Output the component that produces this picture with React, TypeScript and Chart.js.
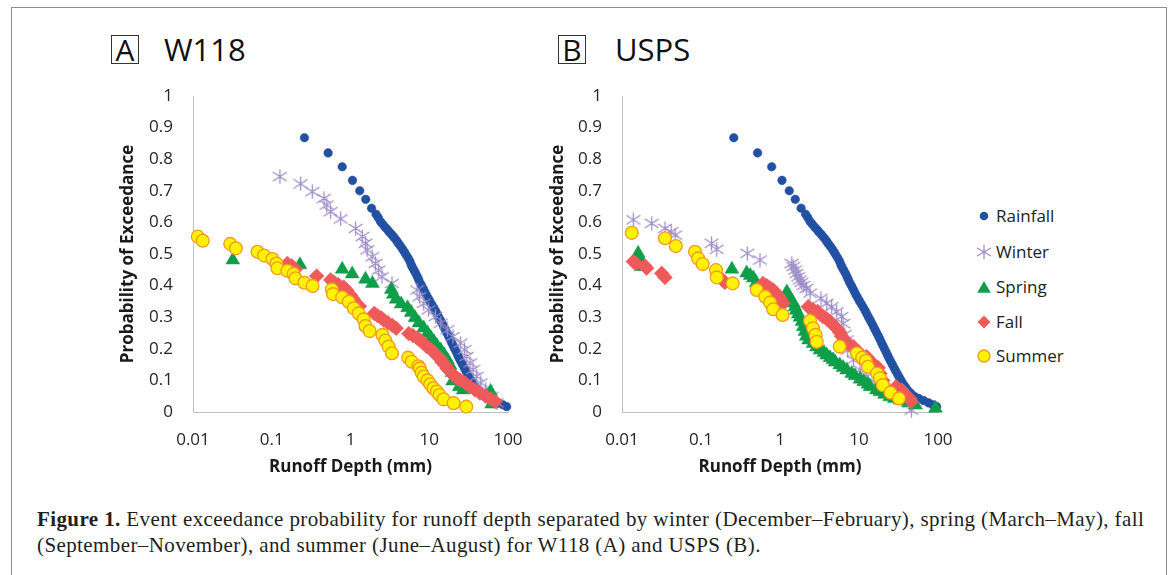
import React, { useEffect, useRef } from "react";
import { Chart, registerables } from "chart.js";

Chart.register(...registerables);

// ---------- axis ticks ----------
const xTickValues = [0.01, 0.1, 1, 10, 100];
const xTickLabels = ["0.01", "0.1", "1", "10", "100"];
const yTickValues = [0, 0.1, 0.2, 0.3, 0.4, 0.5, 0.6, 0.7, 0.8, 0.9, 1];
const yTickLabels = ["0", "0.1", "0.2", "0.3", "0.4", "0.5", "0.6", "0.7", "0.8", "0.9", "1"];

const seriesNames = ["Rainfall", "Winter", "Spring", "Fall", "Summer"];
const panelLetters = ["A", "B"];
const panelNames = ["W118", "USPS"];

// ---------- Rainfall (same in both panels) ----------
const rainfallX = [0.26, 0.52, 0.785, 1.06, 1.31, 1.56, 1.85, 2.11, 2.25, 2.4, 2.55, 2.75, 2.95, 3.1, 3.3, 3.5, 3.7, 3.9, 4.1, 4.35, 4.6, 4.85, 5.1, 5.4, 5.7, 5.9, 6.1, 6.4, 6.7, 7.0, 7.3, 7.6, 8.0, 8.4, 8.8, 9.2, 9.7, 10.2, 10.8, 11.4, 12.0, 12.6, 13.2, 13.9, 14.6, 15.3, 16.0, 16.8, 17.6, 18.4, 19.2, 20.1, 21.0, 22.0, 23.0, 24.0, 25.2, 26.5, 27.8, 29.2, 30.7, 32.3, 34.0, 36, 38.5, 41, 45, 50, 57, 66, 76, 86, 96];
const rainfallY = [0.868, 0.82, 0.776, 0.733, 0.70, 0.673, 0.645, 0.626, 0.615, 0.603, 0.595, 0.585, 0.577, 0.570, 0.563, 0.555, 0.548, 0.540, 0.532, 0.524, 0.515, 0.506, 0.497, 0.487, 0.476, 0.466, 0.458, 0.449, 0.440, 0.430, 0.420, 0.410, 0.400, 0.390, 0.380, 0.370, 0.360, 0.350, 0.340, 0.330, 0.320, 0.310, 0.300, 0.290, 0.280, 0.270, 0.260, 0.250, 0.240, 0.230, 0.220, 0.210, 0.200, 0.190, 0.180, 0.170, 0.160, 0.150, 0.140, 0.130, 0.120, 0.110, 0.100, 0.090, 0.080, 0.070, 0.060, 0.050, 0.043, 0.036, 0.029, 0.023, 0.017];

// ---------- W118 (A) ----------
const w118WinterX = [0.127, 0.233, 0.327, 0.46, 0.50, 0.56, 0.75, 1.16, 1.41, 1.55, 1.63, 1.88, 2.07, 2.28, 2.51, 3.36, 7.0, 7.5, 8.5, 9.8, 12.0, 14.0, 17.0, 20.0, 25.0, 28.0, 30.0, 33.0, 36.0, 40.0, 45.0, 52.0, 62.0, 72.0];
const w118WinterY = [0.745, 0.722, 0.697, 0.676, 0.655, 0.634, 0.611, 0.581, 0.555, 0.534, 0.513, 0.491, 0.470, 0.449, 0.428, 0.407, 0.386, 0.365, 0.344, 0.323, 0.302, 0.281, 0.260, 0.239, 0.218, 0.197, 0.176, 0.155, 0.134, 0.113, 0.092, 0.071, 0.050, 0.029];

const w118SpringX = [0.032, 0.228, 0.785, 1.05, 1.55, 1.9, 3.3, 3.5, 3.8, 4.4, 5.3, 5.9, 6.6, 7.4, 8.5, 9.5, 10.5, 11.5, 12.5, 14, 15.5, 17, 18.4, 19.5, 19.8, 24, 27, 60, 62];
const w118SpringY = [0.481, 0.466, 0.452, 0.437, 0.42, 0.407, 0.388, 0.373, 0.357, 0.342, 0.33, 0.315, 0.298, 0.282, 0.266, 0.25, 0.235, 0.222, 0.21, 0.196, 0.18, 0.165, 0.148, 0.125, 0.098, 0.08, 0.07, 0.065, 0.025];

const w118FallX = [0.158, 0.18, 0.2, 0.372, 0.56, 0.62, 0.7, 0.82, 0.9, 1.0, 1.08, 1.16, 1.3, 2.0, 2.2, 2.45, 2.65, 3.0, 3.4, 3.8, 5.5, 6.2, 7.0, 7.6, 8.5, 9.2, 10.3, 11.3, 12.5, 13.8, 14.5, 15.9, 16.8, 18.5, 20.4, 23, 25, 28.5, 33, 38, 44, 52, 60, 69];
const w118FallY = [0.47, 0.462, 0.452, 0.43, 0.418, 0.41, 0.403, 0.395, 0.385, 0.37, 0.358, 0.344, 0.335, 0.312, 0.305, 0.298, 0.291, 0.282, 0.274, 0.265, 0.248, 0.242, 0.234, 0.228, 0.217, 0.208, 0.2, 0.191, 0.178, 0.17, 0.158, 0.149, 0.138, 0.128, 0.115, 0.106, 0.1, 0.092, 0.08, 0.07, 0.06, 0.05, 0.042, 0.033];

const w118SummerX = [0.0115, 0.0133, 0.0297, 0.035, 0.066, 0.08, 0.102, 0.115, 0.118, 0.158, 0.19, 0.2, 0.26, 0.33, 0.58, 0.6, 0.785, 0.95, 1.1, 1.27, 1.47, 1.55, 1.75, 2.55, 2.77, 3.05, 3.36, 5.4, 6.0, 7.3, 7.6, 8.0, 8.5, 9.5, 10.3, 11.3, 12.5, 13.5, 15.2, 20.4, 29.5];
const w118SummerY = [0.555, 0.542, 0.532, 0.518, 0.507, 0.495, 0.484, 0.47, 0.455, 0.447, 0.437, 0.423, 0.409, 0.399, 0.388, 0.373, 0.363, 0.349, 0.328, 0.312, 0.293, 0.272, 0.256, 0.244, 0.226, 0.207, 0.186, 0.172, 0.159, 0.145, 0.138, 0.124, 0.112, 0.1, 0.088, 0.075, 0.065, 0.054, 0.04, 0.028, 0.017];

// ---------- USPS (B) ----------
const uspsWinterX = [0.0139, 0.0238, 0.035, 0.042, 0.047, 0.136, 0.158, 0.385, 0.558, 1.41, 1.47, 1.55, 1.62, 1.7, 1.79, 1.86, 1.97, 2.15, 2.4, 3.3, 3.9, 4.5, 5.2, 6.0, 6.3, 6.6, 7.0, 7.2, 8.5, 10.3, 12.5, 15.9, 24.5, 33, 44, 46];
const uspsWinterY = [0.608, 0.597, 0.581, 0.57, 0.56, 0.534, 0.515, 0.502, 0.481, 0.47, 0.46, 0.449, 0.438, 0.428, 0.418, 0.41, 0.4, 0.391, 0.376, 0.36, 0.344, 0.333, 0.317, 0.302, 0.28, 0.245, 0.228, 0.196, 0.165, 0.133, 0.112, 0.091, 0.07, 0.048, 0.027, 0.006];

const uspsSpringX = [0.016, 0.0169, 0.0175, 0.246, 0.378, 0.42, 0.46, 0.5, 1.22, 1.27, 1.35, 1.47, 1.55, 1.6, 1.7, 1.79, 1.9, 1.97, 2.07, 2.15, 2.3, 2.62, 2.9, 3.2, 3.6, 3.9, 4.3, 4.7, 5.0, 5.7, 6.3, 7.0, 8.1, 8.9, 10.3, 11.5, 13, 13.8, 16.6, 18.4, 21, 24.5, 28, 33, 42, 52, 93];
const uspsSpringY = [0.502, 0.486, 0.46, 0.452, 0.44, 0.432, 0.424, 0.409, 0.38, 0.37, 0.357, 0.345, 0.333, 0.322, 0.31, 0.3, 0.286, 0.27, 0.255, 0.24, 0.228, 0.217, 0.206, 0.196, 0.188, 0.18, 0.172, 0.165, 0.158, 0.149, 0.141, 0.133, 0.122, 0.115, 0.104, 0.096, 0.088, 0.08, 0.07, 0.064, 0.056, 0.048, 0.043, 0.038, 0.03, 0.022, 0.012];

const uspsFallX = [0.0139, 0.015, 0.0195, 0.0205, 0.0318, 0.035, 0.188, 0.2, 0.61, 0.68, 0.75, 0.82, 0.9, 0.95, 1.0, 1.05, 1.1, 2.28, 2.6, 3.0, 3.2, 3.5, 3.9, 4.3, 4.6, 5.2, 5.7, 6.0, 6.6, 7.0, 8.5, 8.9, 10.3, 12.5, 13, 15, 17.5, 18.4, 20, 29.5, 34.7, 36, 40, 44, 46];
const uspsFallY = [0.476, 0.47, 0.462, 0.455, 0.439, 0.426, 0.418, 0.41, 0.407, 0.4, 0.392, 0.386, 0.375, 0.368, 0.36, 0.35, 0.344, 0.333, 0.325, 0.318, 0.31, 0.302, 0.295, 0.286, 0.278, 0.265, 0.252, 0.24, 0.228, 0.218, 0.207, 0.196, 0.186, 0.175, 0.168, 0.154, 0.14, 0.122, 0.1, 0.08, 0.07, 0.064, 0.052, 0.042, 0.033];

const uspsSummerX = [0.0133, 0.035, 0.048, 0.084, 0.092, 0.105, 0.155, 0.158, 0.252, 0.507, 0.65, 0.75, 0.82, 1.08, 2.4, 2.62, 2.82, 2.92, 5.7, 9.4, 11, 12.2, 13, 17, 18.4, 20, 25, 32];
const uspsSummerY = [0.567, 0.55, 0.525, 0.507, 0.486, 0.468, 0.449, 0.426, 0.407, 0.386, 0.365, 0.346, 0.325, 0.307, 0.289, 0.265, 0.244, 0.222, 0.207, 0.186, 0.172, 0.162, 0.143, 0.122, 0.107, 0.085, 0.061, 0.043];

// ---------- styling ----------
const COLORS = {
  rainfall: "#2251A4",
  winter: "#9D8CC6",
  spring: "#0F9E4A",
  fall: "#EE5A5A",
  summerFill: "#FFF200",
  summerBorder: "#F29A1F",
  axis: "#BFBFBF",
  tick: "#262626",
};
const FONT = "'Open Sans', 'Noto Sans', sans-serif";

function zip(xs: number[], ys: number[]) {
  const n = Math.min(xs.length, ys.length);
  const out: { x: number; y: number }[] = [];
  for (let i = 0; i < n; i++) out.push({ x: xs[i], y: ys[i] });
  return out;
}

function makeAsterisk(color: string, size: number) {
  const c = document.createElement("canvas");
  c.width = size;
  c.height = size;
  const g = c.getContext("2d")!;
  g.strokeStyle = color;
  g.lineWidth = 1.3;
  g.lineCap = "round";
  const m = size / 2;
  g.beginPath();
  g.moveTo(m, 0.8);
  g.lineTo(m, size - 0.8);
  g.moveTo(1, size * 0.22);
  g.lineTo(size - 1, size * 0.78);
  g.moveTo(1, size * 0.78);
  g.lineTo(size - 1, size * 0.22);
  g.stroke();
  return c;
}

function buildDatasets(
  asterisk: HTMLCanvasElement,
  winterX: number[], winterY: number[],
  springX: number[], springY: number[],
  fallX: number[], fallY: number[],
  summerX: number[], summerY: number[]
) {
  return [
    {
      label: seriesNames[0],
      data: zip(rainfallX, rainfallY),
      pointStyle: "circle",
      pointRadius: 4.3,
      backgroundColor: COLORS.rainfall,
      borderColor: COLORS.rainfall,
      borderWidth: 0.5,
      order: 5,
      clip: false,
    },
    {
      label: seriesNames[1],
      data: zip(winterX, winterY),
      pointStyle: asterisk,
      pointRadius: 7,
      backgroundColor: COLORS.winter,
      borderColor: COLORS.winter,
      order: 4,
      clip: false,
    },
    {
      label: seriesNames[2],
      data: zip(springX, springY),
      pointStyle: "triangle",
      pointRadius: 8,
      backgroundColor: COLORS.spring,
      borderColor: COLORS.spring,
      borderWidth: 0.5,
      order: 3,
      clip: false,
    },
    {
      label: seriesNames[3],
      data: zip(fallX, fallY),
      pointStyle: "rectRot",
      pointRadius: 7.4,
      backgroundColor: COLORS.fall,
      borderColor: COLORS.fall,
      borderWidth: 0.5,
      order: 2,
      clip: false,
    },
    {
      label: seriesNames[4],
      data: zip(summerX, summerY),
      pointStyle: "circle",
      pointRadius: 6.4,
      backgroundColor: COLORS.summerFill,
      borderColor: COLORS.summerBorder,
      borderWidth: 1.3,
      order: 1,
      clip: false,
    },
  ];
}

function buildOptions(yAxisWidth: number): any {
  return {
    responsive: false,
    animation: false,
    devicePixelRatio: 1,
    events: [],
    layout: { padding: { top: 16, right: 22, left: 0, bottom: 0 } },
    plugins: { legend: { display: false }, tooltip: { enabled: false }, title: { display: false } },
    scales: {
      x: {
        type: "logarithmic",
        min: 0.01,
        max: 100,
        afterBuildTicks: (s: any) => {
          s.ticks = xTickValues.map((v) => ({ value: v }));
        },
        afterFit: (s: any) => {
          s.height = 68;
          s.paddingLeft = 0;
          s.paddingRight = 0;
          s.paddingTop = 0;
          s.paddingBottom = 0;
        },
        ticks: {
          callback: (_v: any, i: number) => xTickLabels[i],
          font: { family: FONT, size: 17 },
          color: COLORS.tick,
          padding: 18,
          maxRotation: 0,
          autoSkip: false,
        },
        grid: { display: false, drawTicks: false },
        border: { display: true, color: COLORS.axis, width: 1 },
        title: {
          display: true,
          text: "Runoff Depth (mm)",
          font: { family: FONT, size: 17, weight: "bold" },
          color: "#1a1a1a",
          padding: { top: 0, bottom: 3 },
        },
      },
      y: {
        type: "linear",
        min: 0,
        max: 1,
        afterBuildTicks: (s: any) => {
          s.ticks = yTickValues.map((v) => ({ value: v }));
        },
        afterFit: (s: any) => {
          s.width = yAxisWidth;
          s.paddingLeft = 0;
          s.paddingRight = 0;
          s.paddingTop = 0;
          s.paddingBottom = 0;
        },
        ticks: {
          callback: (_v: any, i: number) => yTickLabels[i],
          font: { family: FONT, size: 17 },
          color: COLORS.tick,
          padding: 20,
          autoSkip: false,
        },
        grid: { display: false, drawTicks: false },
        border: { display: true, color: COLORS.axis, width: 1 },
        title: {
          display: true,
          text: "Probability of Exceedance",
          font: { family: FONT, size: 17, weight: "bold" },
          color: "#1a1a1a",
          padding: { top: 18, bottom: 0 },
        },
      },
    },
  };
}

function Panel(props: { left: number; yAxisWidth: number; which: "A" | "B" }) {
  const ref = useRef<HTMLCanvasElement | null>(null);
  useEffect(() => {
    if (!ref.current) return;
    const asterisk = makeAsterisk(COLORS.winter, 15);
    const datasets =
      props.which === "A"
        ? buildDatasets(asterisk, w118WinterX, w118WinterY, w118SpringX, w118SpringY, w118FallX, w118FallY, w118SummerX, w118SummerY)
        : buildDatasets(asterisk, uspsWinterX, uspsWinterY, uspsSpringX, uspsSpringY, uspsFallX, uspsFallY, uspsSummerX, uspsSummerY);
    const chart = new Chart(ref.current, {
      type: "scatter",
      data: { datasets: datasets as any },
      options: buildOptions(props.yAxisWidth),
    });
    return () => chart.destroy();
  }, []);
  return (
    <canvas
      ref={ref}
      width={430}
      height={400}
      style={{ position: "absolute", left: props.left, top: 80, width: 430, height: 400 }}
    />
  );
}

function PanelTitle(props: { left: number; nameLeft: number; letter: string; name: string }) {
  return (
    <>
      <div
        style={{
          position: "absolute",
          left: props.left,
          top: 35,
          width: 26,
          height: 27,
          border: "1px solid #333",
          fontFamily: FONT,
          fontSize: 30,
          lineHeight: "27px",
          textAlign: "center",
          color: "#111",
        }}
      >
        {props.letter}
      </div>
      <div
        style={{
          position: "absolute",
          left: props.nameLeft,
          top: 34,
          fontFamily: FONT,
          fontSize: 31,
          lineHeight: "31px",
          color: "#111",
          whiteSpace: "nowrap",
        }}
      >
        {props.name}
      </div>
    </>
  );
}

function LegendMarker(props: { kind: number }) {
  const k = props.kind;
  return (
    <svg width={16} height={16} viewBox="0 0 16 16" style={{ position: "absolute", left: 0, top: 0 }}>
      {k === 0 && <circle cx={8} cy={8} r={4.3} fill={COLORS.rainfall} />}
      {k === 1 && (
        <g stroke={COLORS.winter} strokeWidth={1.3} strokeLinecap="round">
          <line x1={8} y1={1.3} x2={8} y2={14.7} />
          <line x1={1.5} y1={4.3} x2={14.5} y2={11.7} />
          <line x1={1.5} y1={11.7} x2={14.5} y2={4.3} />
        </g>
      )}
      {k === 2 && <polygon points="8,2 14.8,13.8 1.2,13.8" fill={COLORS.spring} />}
      {k === 3 && <polygon points="8,1.5 14.5,8 8,14.5 1.5,8" fill={COLORS.fall} />}
      {k === 4 && <circle cx={8} cy={8} r={6} fill={COLORS.summerFill} stroke={COLORS.summerBorder} strokeWidth={1.3} />}
    </svg>
  );
}

const legendRowY = [216, 252, 287, 322, 356];

function Legend() {
  return (
    <>
      {seriesNames.map((name, i) => (
        <div key={name} style={{ position: "absolute", left: 976, top: legendRowY[i] - 8, height: 16 }}>
          <LegendMarker kind={i} />
          <div
            style={{
              position: "absolute",
              left: 20,
              top: -4,
              fontFamily: FONT,
              fontSize: 17,
              lineHeight: "24px",
              color: "#222",
              whiteSpace: "nowrap",
            }}
          >
            {name}
          </div>
        </div>
      ))}
    </>
  );
}

export default function App() {
  return (
    <div
      style={{
        position: "absolute",
        left: 0,
        top: 0,
        width: 1170,
        height: 575,
        overflow: "hidden",
        background: "#fff",
      }}
    >
      <div
        style={{
          position: "absolute",
          left: 11,
          top: 7,
          width: 1156,
          height: 640,
          border: "1px solid #8c8c8c",
          boxSizing: "border-box",
        }}
      />
      <PanelTitle left={111} nameLeft={164} letter={panelLetters[0]} name={panelNames[0]} />
      <PanelTitle left={558} nameLeft={615} letter={panelLetters[1]} name={panelNames[1]} />
      <Panel left={100} yAxisWidth={93} which="A" />
      <Panel left={530} yAxisWidth={92} which="B" />
      <Legend />
      <div
        style={{
          position: "absolute",
          left: 37,
          top: 506,
          fontFamily: "'Liberation Serif', 'Times New Roman', serif",
          fontSize: 21,
          letterSpacing: "0.4px",
          lineHeight: "26px",
          color: "#231f20",
          whiteSpace: "nowrap",
        }}
      >
        <b>Figure 1.</b> Event exceedance probability for runoff depth separated by winter (December–February), spring (March–May), fall
        <br />
        (September–November), and summer (June–August) for W118 (A) and USPS (B).
      </div>
    </div>
  );
}
